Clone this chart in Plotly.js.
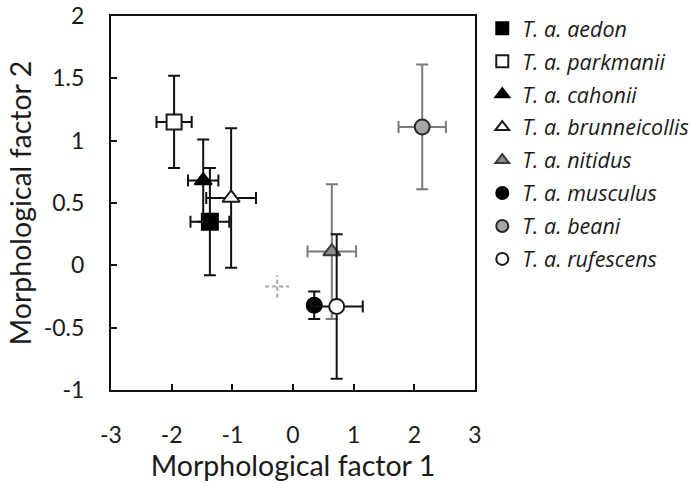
<!DOCTYPE html>
<html>
<head>
<meta charset="utf-8">
<script src="https://cdn.plot.ly/plotly-3.0.1.min.js"></script>
<style>
  html, body { margin: 0; padding: 0; background: #fff; }
  #chart { width: 691px; height: 484px; }
</style>
</head>
<body>
<div id="chart"></div>
<script>
// Subspecies means on the two morphological factors, with error bars
const subspecies = ['T. a. aedon', 'T. a. parkmanii', 'T. a. cahonii', 'T. a. brunneicollis',
                    'T. a. nitidus', 'T. a. musculus', 'T. a. beani', 'T. a. rufescens'];
const factor1 = [-1.37, -1.96, -1.48, -1.02, 0.64, 0.35, 2.13, 0.72];
const factor2 = [0.35, 1.15, 0.68, 0.54, 0.11, -0.32, 1.11, -0.33];
const factor1Err = [0.32, 0.29, 0.25, 0.41, 0.40, 0.08, 0.39, 0.43];
const factor2Err = [0.43, 0.37, 0.33, 0.56, 0.54, 0.11, 0.50, 0.58];

// Reference cross (dashed), centre and arm half-lengths
const crossCentre = [-0.26, -0.17];
const crossArms = [0.20, 0.09];

const xTickVals = [-3, -2, -1, 0, 1, 2, 3];
const xTickText = ['-3', '-2', '-1', '0', '1', '2', '3'];
const yTickVals = [-1, -0.5, 0, 0.5, 1, 1.5, 2];
const yTickText = ['-1', '-0.5', '0', '0.5', '1', '1.5', '2'];

// Marker styling per subspecies
const symbols = ['square', 'square', 'triangle-up', 'triangle-up', 'triangle-up', 'circle', 'circle', 'circle'];
const fills = ['#000000', '#ffffff', '#000000', '#ffffff', '#8c8c8c', '#000000', '#a6a6a6', '#ffffff'];
const outlines = ['#000000', '#1a1a1a', '#000000', '#1a1a1a', '#3a3a3a', '#000000', '#2a2a2a', '#1a1a1a'];
const barColours = ['#111111', '#111111', '#111111', '#111111', '#7a7a7a', '#111111', '#7a7a7a', '#111111'];
const sizes = [16, 15, 15, 15, 15, 15, 15, 15];

const traces = subspecies.map((name, i) => ({
  type: 'scatter',
  mode: 'markers',
  name: name,
  legendgroup: 'g' + i,
  x: [factor1[i]],
  y: [factor2[i]],
  error_x: { type: 'data', array: [factor1Err[i]], visible: true, color: barColours[i], thickness: 2, width: 6 },
  error_y: { type: 'data', array: [factor2Err[i]], visible: true, color: barColours[i], thickness: 2, width: 6 },
  marker: { symbol: symbols[i], size: sizes[i], color: fills[i], line: { color: outlines[i], width: 2 } },
  cliponaxis: false
}));

// Dashed cross built from its centre and arm lengths
traces.unshift({
  type: 'scatter',
  mode: 'lines',
  showlegend: false,
  hoverinfo: 'skip',
  x: [crossCentre[0] - crossArms[0], crossCentre[0] + crossArms[0], null, crossCentre[0], crossCentre[0]],
  y: [crossCentre[1], crossCentre[1], null, crossCentre[1] - crossArms[1], crossCentre[1] + crossArms[1]],
  line: { color: '#a8a8a8', width: 2, dash: '4px,3px' }
});

const textFamily = 'Lato, "Open Sans", sans-serif';
const axisFont = { family: textFamily, size: 23, color: '#1a1a1a' };
const titleFont = { family: textFamily, size: 28.5, color: '#1a1a1a' };

const layout = {
  width: 691,
  height: 484,
  margin: { l: 111, r: 216, t: 16, b: 94, autoexpand: false },
  paper_bgcolor: '#ffffff',
  plot_bgcolor: '#ffffff',
  showlegend: true,
  legend: {
    x: 1.02, xanchor: 'left', y: 1.022, yanchor: 'top',
    font: { family: '"Open Sans", sans-serif', size: 21.5, color: '#1a1a1a', style: 'italic' },
    itemsizing: 'constant',
    traceorder: 'grouped',
    tracegroupgap: 2,
    maxheight: 440,
    bgcolor: 'rgba(0,0,0,0)'
  },
  xaxis: {
    range: [-3, 3],
    tickmode: 'array', tickvals: xTickVals, ticktext: xTickText,
    ticks: 'inside', ticklen: 6, tickwidth: 2, tickcolor: '#111',
    showline: true, linecolor: '#111', linewidth: 2, mirror: true,
    showgrid: false, zeroline: false,
    tickfont: axisFont,
    ticklabelstandoff: 23,
    title: { text: 'Morphological factor 1', font: titleFont, standoff: 2 }
  },
  yaxis: {
    range: [-1, 2],
    tickmode: 'array', tickvals: yTickVals, ticktext: yTickText,
    ticks: 'inside', ticklen: 6, tickwidth: 2, tickcolor: '#111',
    showline: true, linecolor: '#111', linewidth: 2, mirror: true,
    showgrid: false, zeroline: false,
    tickfont: axisFont,
    ticklabelstandoff: 20,
    title: { text: 'Morphological factor 2', font: titleFont, standoff: 4 }
  }
};

Plotly.newPlot('chart', traces, layout, { staticPlot: true, displayModeBar: false });
</script>
</body>
</html>
